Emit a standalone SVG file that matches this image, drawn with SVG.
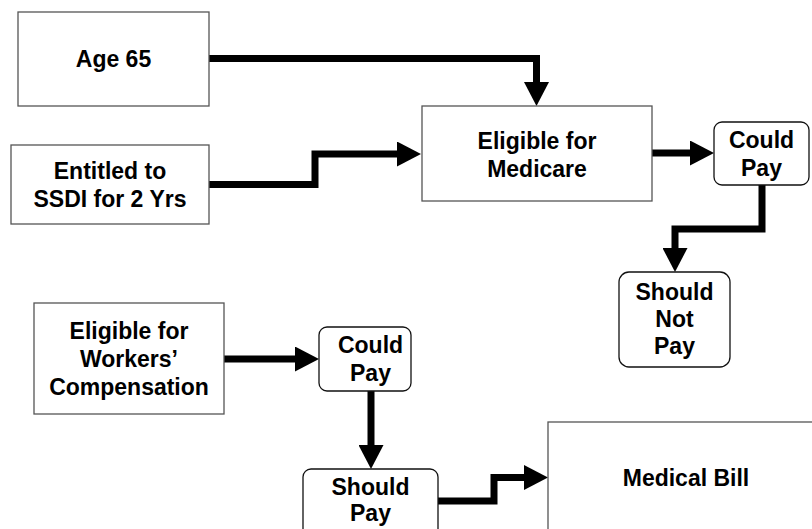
<svg xmlns="http://www.w3.org/2000/svg" width="812" height="529" viewBox="0 0 812 529">
  <style>
    .box { fill: #ffffff; stroke: #555555; stroke-width: 1.3; }
    .rbox { fill: #ffffff; stroke: #111111; stroke-width: 1.3; }
    .lbl { font-family: "Liberation Sans", Arial, sans-serif; font-weight: bold; font-size: 23px; fill: #000000; text-anchor: middle; }
    .wire { fill: none; stroke: #000000; stroke-width: 7; stroke-linejoin: miter; marker-end: url(#head); }
  </style>
  <defs>
    <marker id="head" markerUnits="userSpaceOnUse" markerWidth="24" markerHeight="25" refX="0" refY="12.5" orient="auto">
      <path d="M0,0 L24,12.5 L0,25 z" fill="#000000"/>
    </marker>
  </defs>
  <rect width="812" height="529" fill="#ffffff"/>

  <!-- connectors -->
  <g id="connectors">
    <path class="wire" d="M209,58.5 H536.5 V82"/>
    <path class="wire" d="M209,184.5 H315 V154 H397"/>
    <path class="wire" d="M652,153 H690"/>
    <path class="wire" d="M762,185 V229 H675 V248"/>
    <path class="wire" d="M224,359 H295"/>
    <path class="wire" d="M371,391 V445"/>
    <path class="wire" d="M438,501 H494 V477.5 H524"/>
  </g>

  <g id="age65">
    <rect class="box" x="18" y="12" width="191" height="94"/>
    <text class="lbl" x="113.5" y="67">Age 65</text>
  </g>

  <g id="ssdi">
    <rect class="box" x="11" y="145" width="198" height="79"/>
    <text class="lbl" x="110" y="179">Entitled to</text>
    <text class="lbl" x="110" y="207">SSDI for 2 Yrs</text>
  </g>

  <g id="medicare">
    <rect class="box" x="422" y="106" width="230" height="95"/>
    <text class="lbl" x="537" y="149">Eligible for</text>
    <text class="lbl" x="537" y="177">Medicare</text>
  </g>

  <g id="could-pay-medicare">
    <rect class="rbox" x="714" y="122" width="95" height="63" rx="8" ry="8"/>
    <text class="lbl" x="761.5" y="148">Could</text>
    <text class="lbl" x="761.5" y="176">Pay</text>
  </g>

  <g id="should-not-pay">
    <rect class="rbox" x="619" y="272" width="111" height="95" rx="10" ry="10"/>
    <text class="lbl" x="674.5" y="300">Should</text>
    <text class="lbl" x="674.5" y="327">Not</text>
    <text class="lbl" x="674.5" y="354">Pay</text>
  </g>

  <g id="workers-comp">
    <rect class="box" x="34" y="303" width="190" height="111"/>
    <text class="lbl" x="129" y="339">Eligible for</text>
    <text class="lbl" x="129" y="367">Workers’</text>
    <text class="lbl" x="129" y="395">Compensation</text>
  </g>

  <g id="could-pay-workers">
    <rect class="rbox" x="319" y="327" width="92" height="64" rx="8" ry="8"/>
    <text class="lbl" x="370.5" y="353">Could</text>
    <text class="lbl" x="370.5" y="381">Pay</text>
  </g>

  <g id="should-pay">
    <rect class="rbox" x="303" y="469" width="135" height="80" rx="8" ry="8"/>
    <text class="lbl" x="370.5" y="495">Should</text>
    <text class="lbl" x="370.5" y="521">Pay</text>
  </g>

  <g id="medical-bill">
    <rect class="box" x="548" y="422" width="290" height="130"/>
    <text class="lbl" x="686" y="486">Medical Bill</text>
  </g>
</svg>
